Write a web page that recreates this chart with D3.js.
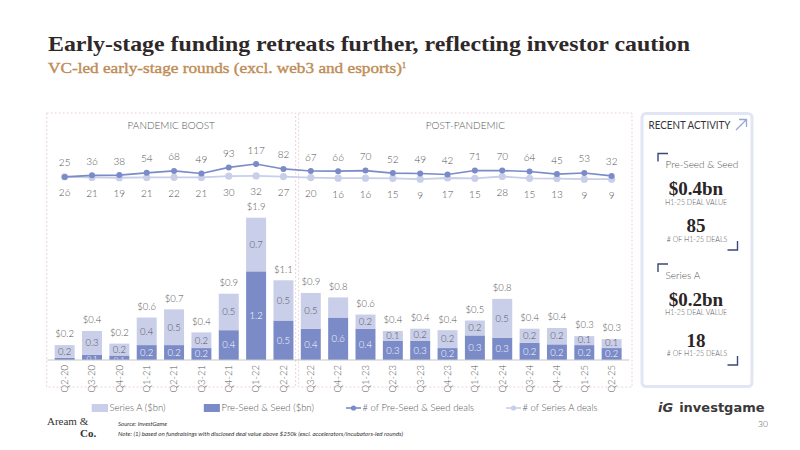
<!DOCTYPE html>
<html>
<head>
<meta charset="utf-8">
<script src="https://cdn.jsdelivr.net/npm/d3@7"></script>
<style>
  body { margin: 0; background: #fff; }
  svg { display: block; }
  text { font-family: Lato, "Open Sans", sans-serif; font-weight: 300; }
</style>
</head>
<body>
<svg id="chart" width="800" height="450"></svg>
<script>
const quarters = ['Q2-20','Q3-20','Q4-20','Q1-21','Q2-21','Q3-21','Q4-21','Q1-22','Q2-22',
  'Q3-22','Q4-22','Q1-23','Q2-23','Q3-23','Q4-23','Q1-24','Q2-24','Q3-24','Q4-24','Q1-25','Q2-25'];
// deal value, $bn
const seedValue    = [0.03,0.07,0.06,0.2,0.2,0.16,0.4,1.19,0.53, 0.42,0.57,0.42,0.26,0.26,0.16,0.33,0.3,0.23,0.21,0.2,0.16];
const seriesAValue = [0.17,0.32,0.16,0.37,0.48,0.21,0.49,0.72,0.54, 0.48,0.27,0.19,0.13,0.16,0.24,0.2,0.52,0.19,0.22,0.12,0.12];
// number of deals
const seedDeals    = [25,36,38,54,68,49,93,117,82, 67,66,70,52,49,42,71,70,64,45,53,32];
const seriesADeals = [26,21,19,21,22,21,30,32,27, 20,16,16,15,9,17,15,28,15,13,9,9];
const hiddenALabels = ['Q4-22'];
const periods = [
  {name: 'PANDEMIC BOOST', from: 'Q2-20', to: 'Q2-22'},
  {name: 'POST-PANDEMIC', from: 'Q3-22', to: 'Q2-25'}
];
const legendItems = ['Series A ($bn)', 'Pre-Seed & Seed ($bn)', '# of Pre-Seed & Seed deals', '# of Series A deals'];

const darkBlue = '#7a8bc8', lightBlue = '#c9cee9', grey = '#555';

const svg = d3.select('#chart');

// titles
svg.append('text')
  .attr('x', 48).attr('y', 51)
  .attr('textLength', 642).attr('lengthAdjust', 'spacingAndGlyphs')
  .style('font-family', '"Liberation Serif", serif').style('font-weight', 700)
  .style('font-size', '21px').style('fill', '#2e2829')
  .text('Early-stage funding retreats further, reflecting investor caution');

const sub = svg.append('text')
  .attr('x', 48).attr('y', 73)
  .style('font-family', '"Liberation Serif", serif').style('font-weight', 400)
  .style('font-size', '15.5px').style('fill', '#c08c55')
  .style('stroke', '#c08c55').style('stroke-width', 0.4);
sub.append('tspan').attr('textLength', 354).attr('lengthAdjust', 'spacingAndGlyphs')
  .style('font-weight', 400).text('VC-led early-stage rounds (excl. web3 and esports)');
sub.append('tspan').attr('dy', -5).style('font-size', '8px').text('1');

// scales
const x = d3.scaleBand().domain(quarters).range([47.3, 629]).paddingInner(0.27).paddingOuter(0.27);
const y = d3.scaleLinear().domain([0, 2.5]).range([360, 173.75]);
const yDeals = d3.scaleLinear().domain([0, 120]).range([180.4, 163.6]);

// period boxes
const step = x.step();
periods.forEach((p, i) => {
  const x0 = i === 0 ? 46.7 : x(p.from) - (step - x.bandwidth()) / 2 + 1.5;
  const x1 = i === 0 ? x(p.to) + x.bandwidth() + (step - x.bandwidth()) / 2 - 1.5 : 632;
  svg.append('rect')
    .attr('x', x0).attr('y', 113).attr('width', x1 - x0).attr('height', 274)
    .attr('fill', 'none').attr('stroke', '#ead3da').attr('stroke-width', 1)
    .attr('stroke-dasharray', '2,2');
  svg.append('text')
    .attr('x', (x0 + x1) / 2).attr('y', 125).attr('dy', '0.35em')
    .style('text-anchor', 'middle').style('font-size', '10px').style('fill', grey)
    .text(p.name);
});

// bars
const data = quarters.map((q, i) => ({q: q, seed: seedValue[i], a: seriesAValue[i], total: seedValue[i] + seriesAValue[i]}));
const fmt = d3.format('.1f');

const g = svg.append('g');
g.selectAll('.seed').data(data).enter().append('rect')
  .attr('x', d => x(d.q)).attr('width', x.bandwidth())
  .attr('y', d => y(d.seed)).attr('height', d => y(0) - y(d.seed))
  .attr('fill', darkBlue);
g.selectAll('.a').data(data).enter().append('rect')
  .attr('x', d => x(d.q)).attr('width', x.bandwidth())
  .attr('y', d => y(d.total)).attr('height', d => y(d.seed) - y(d.total))
  .attr('fill', lightBlue);

// small segments: keep the label inside the bar, drawn at its lower edge
g.selectAll('.seedlab').data(data.filter(d => d.seed >= 0.05)).enter().append('text')
  .attr('x', d => x(d.q) + x.bandwidth() / 2)
  .attr('y', d => Math.max((y(0) + y(d.seed)) / 2, y(d.seed) + 4.5)).attr('dy', '0.35em')
  .style('text-anchor', 'middle').style('font-size', d => d.seed < 0.1 ? '8px' : '9.5px').style('fill', '#fff')
  .text(d => fmt(d.seed));
g.selectAll('.alab').data(data.filter(d => hiddenALabels.indexOf(d.q) < 0)).enter().append('text')
  .attr('x', d => x(d.q) + x.bandwidth() / 2)
  .attr('y', d => Math.min((y(d.seed) + y(d.total)) / 2, y(d.seed) - 5)).attr('dy', '0.35em')
  .style('text-anchor', 'middle').style('font-size', '9.5px').style('fill', grey)
  .text(d => fmt(d.a));
g.selectAll('.tot').data(data).enter().append('text')
  .attr('x', d => x(d.q) + x.bandwidth() / 2)
  .attr('y', d => y(d.total) - 11).attr('dy', '0.35em')
  .style('text-anchor', 'middle').style('font-size', '9.5px').style('fill', grey)
  .text(d => '$' + fmt(d.total));

// x axis
const xAxis = svg.append('g')
  .attr('transform', 'translate(0,' + y(0) + ')')
  .call(d3.axisBottom(x).tickSize(0).tickPadding(0));
xAxis.select('.domain').attr('stroke', '#c8c8c8').attr('stroke-width', 1.2).attr('d', 'M47.3,0H629');
xAxis.selectAll('text')
  .attr('transform', 'translate(0,5) rotate(-90)')
  .attr('x', 0).attr('y', 0).attr('dy', '0.35em')
  .style('text-anchor', 'end').style('font-family', 'Lato, sans-serif').style('font-weight', 300)
  .style('font-size', '9.5px').style('fill', grey);

// deal lines
const cx = q => x(q) + x.bandwidth() / 2;
const dealLine = d3.line().x((d, i) => cx(quarters[i])).y(d => yDeals(d));
svg.append('path').datum(seriesADeals).attr('d', dealLine)
  .attr('fill', 'none').attr('stroke', lightBlue).attr('stroke-width', 1.8);
svg.selectAll('.dotA').data(seriesADeals).enter().append('circle')
  .attr('cx', (d, i) => cx(quarters[i])).attr('cy', d => yDeals(d)).attr('r', 3.6)
  .attr('fill', lightBlue);
svg.append('path').datum(seedDeals).attr('d', dealLine)
  .attr('fill', 'none').attr('stroke', darkBlue).attr('stroke-width', 1.6);
svg.selectAll('.dotS').data(seedDeals).enter().append('circle')
  .attr('cx', (d, i) => cx(quarters[i])).attr('cy', d => yDeals(d)).attr('r', 3)
  .attr('fill', darkBlue);

svg.selectAll('.labS').data(seedDeals).enter().append('text')
  .attr('x', (d, i) => cx(quarters[i])).attr('y', d => yDeals(d) - 14).attr('dy', '0.35em')
  .style('text-anchor', 'middle').style('font-size', '10px').style('fill', grey)
  .text(d => d);
svg.selectAll('.labA').data(seriesADeals).enter().append('text')
  .attr('x', (d, i) => cx(quarters[i])).attr('y', d => yDeals(d) + 16).attr('dy', '0.35em')
  .style('text-anchor', 'middle').style('font-size', '10px').style('fill', grey)
  .text(d => d);

// legend
const legY = 408;
const leg = svg.append('g');
leg.append('rect').attr('x', 91.7).attr('y', legY - 4).attr('width', 16.3).attr('height', 8).attr('fill', lightBlue);
leg.append('rect').attr('x', 203.8).attr('y', legY - 4).attr('width', 16.1).attr('height', 8).attr('fill', darkBlue);
leg.append('line').attr('x1', 346).attr('x2', 361).attr('y1', legY).attr('y2', legY).attr('stroke', darkBlue).attr('stroke-width', 1.6);
leg.append('circle').attr('cx', 353.5).attr('cy', legY).attr('r', 2.6).attr('fill', darkBlue);
leg.append('line').attr('x1', 506).attr('x2', 521).attr('y1', legY).attr('y2', legY).attr('stroke', lightBlue).attr('stroke-width', 1.6);
leg.append('circle').attr('cx', 513.5).attr('cy', legY).attr('r', 2.6).attr('fill', lightBlue);
[[109.5, 0], [221.5, 1], [362.5, 2], [522.5, 3]].forEach(p => {
  leg.append('text').attr('x', p[0]).attr('y', legY).attr('dy', '0.35em')
    .style('font-size', '9.5px').style('fill', grey).text(legendItems[p[1]]);
});

// recent activity panel
const panel = svg.append('g');
panel.append('rect').attr('x', 642).attr('y', 113.5).attr('width', 110).attr('height', 273)
  .attr('rx', 4).attr('fill', '#fff').attr('stroke', '#e2e5f4').attr('stroke-width', 3);
panel.append('text').attr('x', 648.5).attr('y', 125).attr('dy', '0.35em')
  .attr('textLength', 82).attr('lengthAdjust', 'spacingAndGlyphs')
  .style('font-size', '10.5px').style('font-weight', 400).style('fill', '#333').text('RECENT ACTIVITY');
panel.append('path').attr('d', 'M736,130L746.5,119.5M739,119.5H746.5V127')
  .attr('fill', 'none').attr('stroke', '#9aa5d6').attr('stroke-width', 1.3);

const blocks = [
  {name: 'Pre-Seed & Seed', value: '$0.4bn', deals: '85', top: 153.5},
  {name: 'Series A', value: '$0.2bn', deals: '18', top: 264}
];
blocks.forEach(b => {
  const t = b.top;
  const late = b.top > 200;
  panel.append('path').attr('d', `M658,${t + 8}V${t}H668`)
    .attr('fill', 'none').attr('stroke', '#3c4876').attr('stroke-width', 1.4);
  panel.append('text').attr('x', 665.5).attr('y', t + 11).attr('dy', '0.35em')
    .style('font-size', '10px').style('fill', grey).text(b.name);
  panel.append('text').attr('x', 696).attr('y', t + 35).attr('dy', '0.35em')
    .style('text-anchor', 'middle').style('font-family', '"Liberation Serif", serif')
    .style('font-weight', 700).style('font-size', '19px').style('fill', '#2b2526').text(b.value);
  panel.append('text').attr('x', 696).attr('y', t + 49).attr('dy', '0.35em')
    .style('text-anchor', 'middle').style('font-size', '7px').style('fill', grey).text('H1-25 DEAL VALUE');
  panel.append('text').attr('x', 696).attr('y', t + (late ? 76 : 72)).attr('dy', '0.35em')
    .style('text-anchor', 'middle').style('font-family', '"Liberation Serif", serif')
    .style('font-weight', 700).style('font-size', '19px').style('fill', '#2b2526').text(b.deals);
  panel.append('text').attr('x', 697).attr('y', t + (late ? 90 : 86)).attr('dy', '0.35em')
    .style('text-anchor', 'middle').style('font-size', '7px').style('fill', grey).text('# OF H1-25 DEALS');
  const by = t + (late ? 101 : 96.5);
  panel.append('path').attr('d', `M737.5,${by - 9}V${by}H727.5`)
    .attr('fill', 'none').attr('stroke', '#3c4876').attr('stroke-width', 1.4);
});

// footer
svg.append('text').attr('x', 47).attr('y', 425)
  .style('font-family', '"Liberation Serif", serif').style('font-weight', 400).style('font-size', '11px').style('fill', '#333').text('Aream &');
svg.append('text').attr('x', 80).attr('y', 437)
  .style('font-family', '"Liberation Serif", serif').style('font-weight', 700).style('font-size', '11px').style('fill', '#333').text('Co.');
svg.append('text').attr('x', 118).attr('y', 426)
  .style('font-style', 'italic').style('font-weight', 400).style('font-size', '6px').style('fill', '#333').text('Source: InvestGame');
svg.append('text').attr('x', 118).attr('y', 436).attr('textLength', 285).attr('lengthAdjust', 'spacingAndGlyphs')
  .style('font-style', 'italic').style('font-weight', 400).style('font-size', '6px').style('fill', '#333')
  .text('Note: (1) based on fundraisings with disclosed deal value above $250k (excl. accelerators/incubators-led rounds)');

const logo = svg.append('text').attr('x', 658).attr('y', 412)
  .style('font-family', '"DejaVu Sans", sans-serif').style('font-weight', 700).style('font-size', '13px').style('fill', '#3a3a3a');
logo.append('tspan').style('font-style', 'italic').style('font-weight', 700).text('iG');
logo.append('tspan').attr('dx', 6).style('font-weight', 700).text('investgame');
svg.append('text').attr('x', 758).attr('y', 424).attr('dy', '0.35em')
  .style('font-size', '8.5px').style('fill', grey).text('30');
</script>
</body>
</html>
